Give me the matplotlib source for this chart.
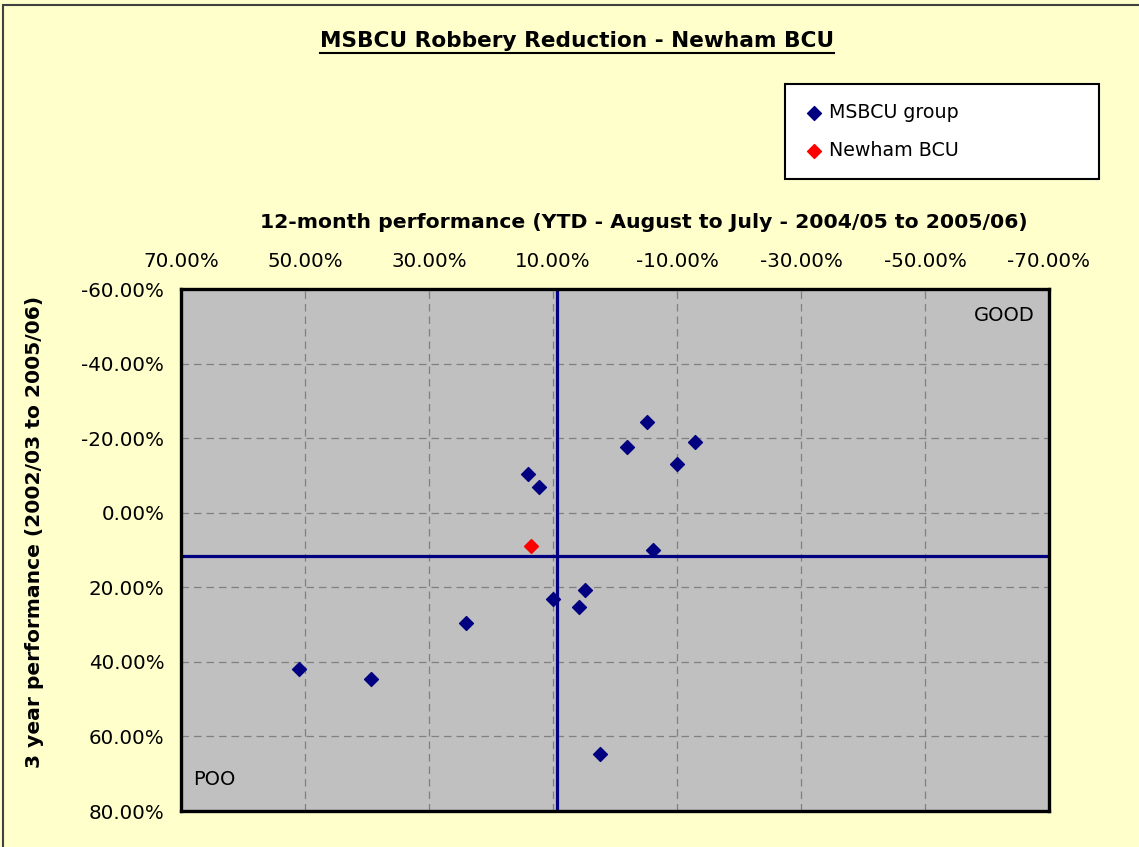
import matplotlib
matplotlib.use('Agg')
import matplotlib.pyplot as plt
from matplotlib.ticker import PercentFormatter, FixedLocator
from matplotlib.patches import Rectangle
from matplotlib.lines import Line2D

plt.rcParams['font.family'] = ['DejaVu Sans']
plt.rcParams['axes.unicode_minus'] = False

# 12-month performance (x) and 3 year performance (y), in percent
msbcu_x = [51.0, 39.4, 24.1, 14.1, 12.2, 10.0, 5.8, 4.8, 2.5, -1.9, -5.2, -6.1, -10.0, -12.9]
msbcu_y = [41.8, 44.5, 29.5, -10.3, -7.0, 23.1, 25.2, 20.8, 64.7, -17.7, -24.2, 10.0, -13.0, -18.9]
newham_x = [13.5]
newham_y = [8.9]
# group average cross-hair
avg_x = 9.3
avg_y = 11.7

x_ticks = [70, 50, 30, 10, -10, -30, -50, -70]
y_ticks = [-60, -40, -20, 0, 20, 40, 60, 80]

bg = '#FFFFCC'
navy = '#000080'

fig = plt.figure(figsize=(11.39, 8.47), dpi=100, facecolor=bg)
ax = fig.add_axes([181/1139, 1 - 811/847, 868/1139, 522/847])
ax.set_facecolor('#C0C0C0')

ax.set_xlim(70, -70)
ax.set_ylim(80, -60)
ax.xaxis.set_major_locator(FixedLocator(x_ticks))
ax.yaxis.set_major_locator(FixedLocator(y_ticks))
ax.xaxis.set_major_formatter(PercentFormatter(decimals=2))
ax.yaxis.set_major_formatter(PercentFormatter(decimals=2))
ax.xaxis.tick_top()
ax.tick_params(length=0, labelsize=14.3)
ax.tick_params(axis='x', pad=13)
ax.tick_params(axis='y', pad=12)
ax.grid(True, color='#808080', linestyle=(0, (6, 4)), linewidth=0.9)
ax.set_axisbelow(True)
for s in ax.spines.values():
    s.set_linewidth(2.4)
    s.set_color('black')

ax.axvline(avg_x, color=navy, lw=2.3, zorder=2)
ax.axhline(avg_y, color=navy, lw=2.3, zorder=2)

ax.scatter(msbcu_x, msbcu_y, marker='D', s=50, color=navy, zorder=3, label='MSBCU group')
ax.scatter(newham_x, newham_y, marker='D', s=50, color='red', zorder=3, label='Newham BCU')

ax.text(0.983, 0.95, 'GOOD', transform=ax.transAxes, ha='right', va='center', fontsize=14)
ax.text(0.014, 0.06, 'POO', transform=ax.transAxes, ha='left', va='center', fontsize=14)

leg = fig.legend(loc='upper left', bbox_to_anchor=(785/1139, 1 - 84/847, 314/1139, 0),
                 mode='expand', fontsize=13.7, frameon=True, fancybox=False,
                 edgecolor='black', facecolor='white', framealpha=1, borderaxespad=0,
                 handletextpad=0.3, handlelength=1.0, borderpad=1.0, labelspacing=1.0,
                 scatterpoints=1)
leg.get_frame().set_linewidth(1.5)

title = fig.text(577/1139, 1 - 41/847, 'MSBCU Robbery Reduction - Newham BCU',
                 ha='center', va='center', fontsize=15.6, fontweight='bold')
fig.text(644/1139, 1 - 222/847, '12-month performance (YTD - August to July - 2004/05 to 2005/06)',
         ha='center', va='center', fontsize=14.7, fontweight='bold')
fig.text(35/1139, 1 - 532/847, '3 year performance (2002/03 to 2005/06)',
         ha='center', va='center', rotation=90, fontsize=14.6, fontweight='bold')

# underline the title
fig.canvas.draw()
bb = title.get_window_extent().transformed(fig.transFigure.inverted())
fig.add_artist(Line2D([bb.x0, bb.x1], [bb.y0 - 0.002, bb.y0 - 0.002],
                      transform=fig.transFigure, color='black', lw=1.5))

# outer border of the chart area
fig.add_artist(Rectangle((3/1139, -0.05), 1.1, 1 - 5/847 + 0.05, transform=fig.transFigure,
                         fill=False, edgecolor='#404040', lw=1.5))

fig.savefig('out.png', dpi=100, facecolor=bg)
